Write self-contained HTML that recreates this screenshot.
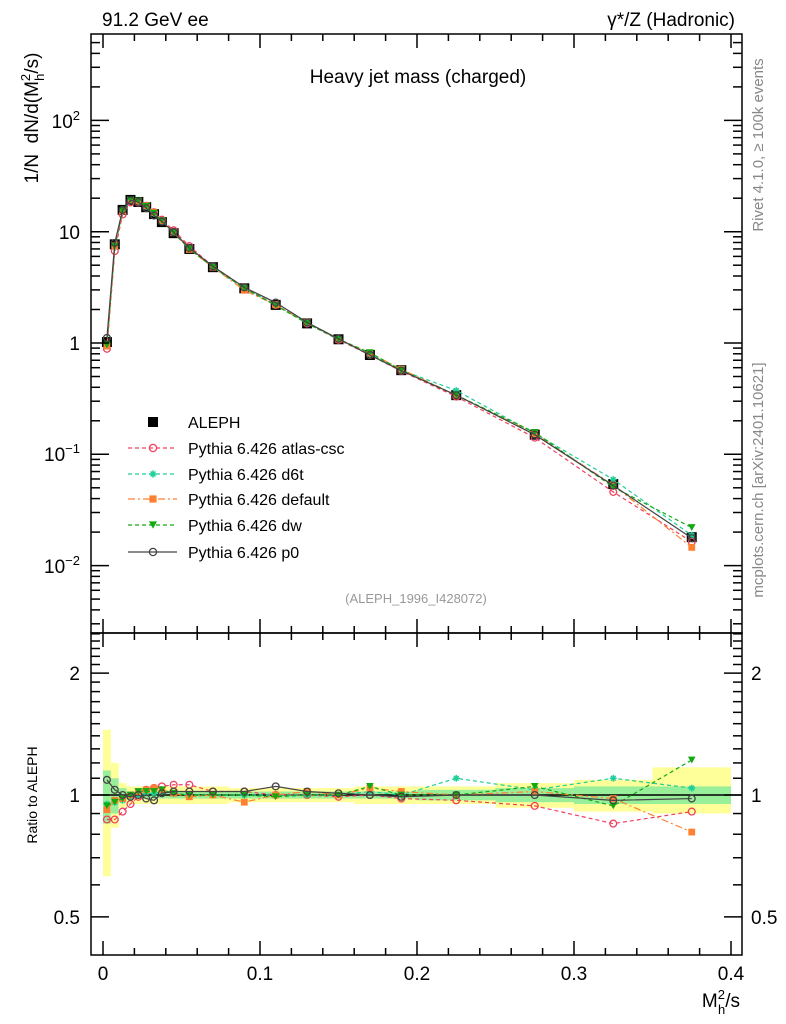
<!DOCTYPE html>
<html><head><meta charset="utf-8"><style>
html,body{margin:0;padding:0;background:#fff;}
svg{display:block;font-family:"Liberation Sans",sans-serif;}
</style></head><body>
<svg id="c" width="786" height="1024" xmlns="http://www.w3.org/2000/svg"></svg>
<script>
const xCenters=[0.0025,0.0075,0.0125,0.0175,0.0225,0.0275,0.0325,0.0375,0.045,0.055,0.07,0.09,0.11,0.13,0.15,0.17,0.19,0.225,0.275,0.325,0.375];
const xLo=[0,0.005,0.01,0.015,0.02,0.025,0.03,0.035,0.04,0.05,0.06,0.08,0.10,0.12,0.14,0.16,0.18,0.20,0.25,0.30,0.35];
const xHi=[0.005,0.01,0.015,0.02,0.025,0.03,0.035,0.04,0.05,0.06,0.08,0.10,0.12,0.14,0.16,0.18,0.20,0.25,0.30,0.35,0.40];
const dataVals=[1.02,7.7,15.7,19.3,18.5,16.6,14.4,12.2,9.7,7.0,4.8,3.1,2.2,1.5,1.08,0.78,0.57,0.34,0.15,0.054,0.018];
const errTotUp=[0.45,0.2,0.07,0.05,0.05,0.05,0.05,0.05,0.05,0.05,0.05,0.04,0.04,0.04,0.04,0.05,0.05,0.05,0.07,0.09,0.17];
const errTotDn=[0.37,0.17,0.07,0.05,0.05,0.05,0.05,0.05,0.05,0.05,0.05,0.04,0.04,0.04,0.04,0.05,0.05,0.05,0.07,0.09,0.1];
const errStat=[0.15,0.1,0.04,0.02,0.02,0.02,0.02,0.02,0.02,0.02,0.02,0.02,0.02,0.02,0.02,0.02,0.02,0.03,0.04,0.05,0.05];
const ratioAtlas=[0.87,0.87,0.91,0.95,0.99,1.03,1.04,1.05,1.06,1.06,1.02,1.02,1.0,1.0,0.99,1.0,0.98,0.97,0.94,0.85,0.91];
const ratioD6t=[0.95,0.96,0.97,0.99,1.0,1.01,1.01,1.02,1.01,1.0,1.0,1.0,1.0,1.0,1.0,1.02,1.0,1.1,1.03,1.1,1.04];
const ratioDefault=[0.92,0.97,0.98,1.0,1.02,1.03,1.04,1.03,1.01,0.99,1.0,0.96,1.0,1.02,1.0,1.04,1.02,1.0,1.02,0.98,0.81];
const ratioDw=[0.94,0.96,0.98,1.0,1.02,1.02,1.02,1.03,1.01,1.0,1.0,1.0,0.99,1.0,1.0,1.05,1.0,1.0,1.05,0.94,1.22];
const ratioP0=[1.09,1.03,1.0,0.99,1.0,0.98,0.97,1.01,1.02,1.02,1.02,1.02,1.05,1.02,1.01,1.0,0.99,1.0,1.0,0.97,0.98];
const xTicks=[0,0.1,0.2,0.3,0.4];
const xTickLabels=["0","0.1","0.2","0.3","0.4"];

const S=document.getElementById('c');const NS="http://www.w3.org/2000/svg";
function mk(t,a,p){const e=document.createElementNS(NS,t);for(const k in a)e.setAttribute(k,a[k]);(p||S).appendChild(e);return e;}
const L=91,R=742,T=34,MB=633,RB=955;
const X=v=>103+v*1570;
const YM=v=>343-Math.log10(v)*111.3;
const YR=v=>795-Math.log10(v)*405;

// ratio bands
const bands=mk('g',{});
xCenters.forEach((c,i)=>{
 const y=mk('rect',{x:X(xLo[i]),width:X(xHi[i])-X(xLo[i]),y:YR(1+errTotUp[i]),height:YR(1-errTotDn[i])-YR(1+errTotUp[i]),fill:'#ffff99'},bands);
 
 const g=mk('rect',{x:X(xLo[i]),width:X(xHi[i])-X(xLo[i]),y:YR(1+errStat[i]),height:YR(1-errStat[i])-YR(1+errStat[i]),fill:'#99ee99'},bands);
 
});
mk('line',{x1:L,x2:R,y1:YR(1),y2:YR(1),stroke:'#000','stroke-width':1.5});

const series=[
 {n:'atlas-csc',r:ratioAtlas,c:'#f0405e',d:'4,3',m:'circ'},
 {n:'d6t',r:ratioD6t,c:'#1fcf9a',d:'4,3',m:'star'},
 {n:'default',r:ratioDefault,c:'#ff8030',d:'7,3,2,3',m:'sq'},
 {n:'dw',r:ratioDw,c:'#11aa11',d:'4,3',m:'tri'},
 {n:'p0',r:ratioP0,c:'#444',d:'',m:'circk'}];
function marker(g,m,x,y,c,s){
 s=s||1;
 if(m=='circ'||m=='circk')mk('circle',{cx:x,cy:y,r:4*s,fill:'none',stroke:c,'stroke-width':1.3},g);
 else if(m=='sq')mk('rect',{x:x-4*s,y:y-4*s,width:8*s,height:8*s,fill:c},g);
 else if(m=='tri')mk('path',{d:`M${x-4.5*s},${y-4*s}L${x+4.5*s},${y-4*s}L${x},${y+4*s}Z`,fill:c},g);
 else if(m=='star'){const r=4*s;mk('path',{d:`M${x-r},${y}H${x+r}M${x},${y-r}V${y+r}M${x-r*.7},${y-r*.7}L${x+r*.7},${y+r*.7}M${x-r*.7},${y+r*.7}L${x+r*.7},${y-r*.7}`,stroke:c,'stroke-width':1.5},g);}
 else if(m=='blk')mk('rect',{x:x-5,y:y-5,width:10,height:10,fill:'#000'},g);
}
// main data points
const dg=mk('g',{});
xCenters.forEach((c,i)=>marker(dg,'blk',X(c),YM(dataVals[i])));
series.forEach(s=>{
 const g=mk('g',{});
 const pm=xCenters.map((c,i)=>[X(c),YM(dataVals[i]*s.r[i])]);
 const pr=xCenters.map((c,i)=>[X(c),YR(s.r[i])]);
 [pm,pr].forEach(p=>{
  mk('polyline',{points:p.map(q=>q.join(',')).join(' '),fill:'none',stroke:s.c,'stroke-width':1.2,'stroke-dasharray':s.d},g);
  p.forEach(q=>marker(g,s.m,q[0],q[1],s.c,0.85));
 });
});

// frames & ticks
const ax=mk('g',{stroke:'#000','stroke-width':1.5,fill:'none'});
mk('rect',{x:L,y:T,width:R-L,height:MB-T},ax);
mk('rect',{x:L,y:MB,width:R-L,height:RB-MB},ax);
for(let v=0;v<=0.4001;v+=0.02){const big=Math.abs(v*10-Math.round(v*10))<1e-6;const len=big?14:7;
 [T,MB,RB].forEach(y=>{
  if(y!=T)mk('line',{x1:X(v),x2:X(v),y1:y,y2:y-len},ax);
  if(y!=RB)mk('line',{x1:X(v),x2:X(v),y1:y,y2:y+len},ax);
 });}
for(let e=-3;e<=2;e++)for(let k=1;k<10;k++){const v=k*Math.pow(10,e);const y=YM(v);if(y<T||y>MB)continue;const len=k==1?18:9;
 mk('line',{x1:L,x2:L+len,y1:y,y2:y},ax);mk('line',{x1:R,x2:R-len,y1:y,y2:y},ax);}
for(let v=0.4;v<=2.6;v+=0.1){const y=YR(v);if(y<MB||y>RB)continue;const big=[0.5,1,2].some(b=>Math.abs(b-v)<1e-6);const len=big?18:9;
 mk('line',{x1:L,x2:L+len,y1:y,y2:y},ax);mk('line',{x1:R,x2:R-len,y1:y,y2:y},ax);}

function txt(s,x,y,a,name,extra){const t=mk('text',Object.assign({x:x,y:y,'font-size':19,'text-anchor':a||'start'},extra||{}));t.innerHTML=s;return t;}
xTicks.forEach((v,i)=>txt(xTickLabels[i],X(v),980,'middle','x-tick-label'));
txt('1',80,350,'end','y-tick-label');txt('10',80,239,'end','y-tick-label');
txt('10<tspan font-size="13" dy="-8">2</tspan>',80,128,'end','y-tick-label');
txt('10<tspan font-size="13" dy="-8">−1</tspan>',80,461,'end','y-tick-label');
txt('10<tspan font-size="13" dy="-8">−2</tspan>',80,573,'end','y-tick-label');
txt('2',80,680,'end','ratio-tick-label');txt('1',80,802,'end','ratio-tick-label');txt('0.5',80,924,'end','ratio-tick-label');
txt('2',751,680,'start','ratio-tick-label-right');txt('1',751,802,'start','ratio-tick-label-right');txt('0.5',751,924,'start','ratio-tick-label-right');
txt('91.2 GeV ee',102,26,'start','beam-label');
txt('γ*/Z (Hadronic)',735,26,'end','process-label');
txt('Heavy jet mass (charged)',418,83,'middle','plot-title');
txt('M<tspan font-size="13" dy="-8">2</tspan><tspan font-size="13" dx="-7" dy="15">h</tspan><tspan dy="-7">/s</tspan>',740,1007,'end','x-axis-title');
txt('1/N&#160;&#160;dN/d(M<tspan font-size="13" dy="-8">2</tspan><tspan font-size="13" dx="-7" dy="14">h</tspan><tspan dy="-6">/s)</tspan>',0,0,'middle','y-axis-title',{transform:'translate(38,118) rotate(-90)'});
txt('Ratio to ALEPH',0,0,'middle','ratio-axis-title',{transform:'translate(37,795) rotate(-90)','font-size':14});
txt('Rivet 4.1.0, ≥ 100k events',0,0,'middle','rivet-label',{transform:'translate(763,145) rotate(-90)','font-size':15,fill:'#888'});
txt('mcplots.cern.ch [arXiv:2401.10621]',0,0,'middle','mcplots-label',{transform:'translate(763,480) rotate(-90)','font-size':15,fill:'#888'});
txt('(ALEPH_1996_I428072)',416,603,'middle','analysis-id',{'font-size':13,fill:'#999'});

// legend
const lg=mk('g',{});
const ly=[422,448,474,499,525,552];
marker(lg,'blk',153,ly[0]);txt('ALEPH',188,ly[0]+6,'start','legend-entry',{'font-size':16});
series.forEach((s,i)=>{const y=ly[i+1];
 mk('line',{x1:128,x2:177,y1:y,y2:y,stroke:s.c,'stroke-width':1.2,'stroke-dasharray':s.d},lg);
 marker(lg,s.m,153,y,s.c,0.9);
 txt('Pythia 6.426 '+s.n,188,y+6,'start','legend-entry',{'font-size':16});});
</script>
</body></html>
